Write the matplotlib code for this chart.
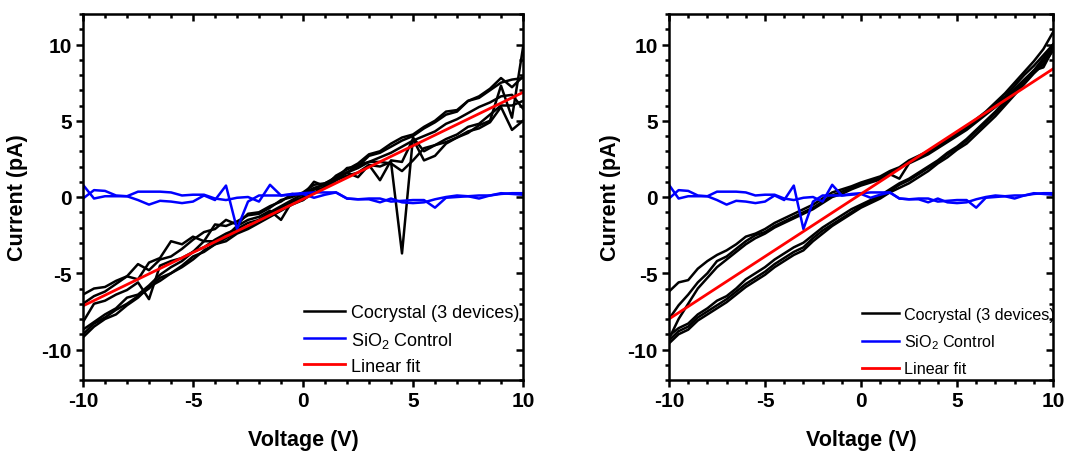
import matplotlib

matplotlib.use("Agg")
import matplotlib.pyplot as plt
from matplotlib.ticker import MultipleLocator

plt.rcParams["font.family"] = ["Liberation Sans", "DejaVu Sans"]
plt.rcParams["mathtext.default"] = "regular"
plt.rcParams["axes.unicode_minus"] = False

# Voltage sweep points (V)
VOLTAGE = [-10.0, -9.5, -9.0, -8.5, -8.0, -7.5, -7.0, -6.5, -6.0, -5.5, -5.0,
           -4.5, -4.0, -3.5, -3.0, -2.5, -2.0, -1.5, -1.0, -0.5, 0.0,
           0.5, 1.0, 1.5, 2.0, 2.5, 3.0, 3.5, 4.0, 4.5, 5.0,
           5.5, 6.0, 6.5, 7.0, 7.5, 8.0, 8.5, 9.0, 9.5, 10.0]

# SiO2 control, two sweeps (pA) - same in both panels
SIO2_A = [0.8, -0.1, 0.05, 0.05, 0.05, -0.2, -0.5, -0.25, -0.3, -0.4, -0.3,
          0.1, -0.2, 0.75, -2.1, -0.3, 0.1, 0.1, 0.1, 0.2, 0.25,
          0.3, 0.3, 0.3, -0.1, -0.15, -0.1, -0.1, -0.3, -0.25, -0.2,
          -0.2, -0.7, -0.05, 0.0, 0.05, -0.1, 0.1, 0.25, 0.2, 0.15]
SIO2_B = [-0.1, 0.45, 0.4, 0.1, 0.05, 0.35, 0.35, 0.35, 0.3, 0.1, 0.15,
          0.15, -0.1, -0.2, -0.05, 0.0, -0.3, 0.8, 0.1, 0.15, 0.2,
          -0.05, 0.15, 0.3, -0.1, -0.15, -0.15, -0.35, -0.1, -0.35, -0.4,
          -0.35, -0.15, 0.0, 0.1, 0.05, 0.1, 0.1, 0.2, 0.25, 0.25]

# Left panel: cocrystal sweeps (pA)
LEFT_COCRYSTAL = [
    [-6.4, -6.0, -5.9, -5.5, -5.2, -4.4, -4.8, -4.1, -3.9, -3.4, -2.8,
     -2.3, -2.1, -1.5, -1.8, -1.1, -1.0, -0.6, -0.3, 0.2, 0.1,
     1.0, 0.7, 1.4, 1.8, 2.2, 2.8, 3.0, 3.5, 3.9, 4.1,
     4.6, 5.0, 5.6, 5.7, 6.3, 6.6, 7.1, 7.8, 7.2, 7.9],
    [-7.0, -6.5, -6.2, -5.7, -5.2, -5.4, -4.3, -4.0, -2.9, -3.1, -2.6,
     -2.9, -1.8, -1.9, -1.6, -1.2, -1.1, -0.7, -0.2, 0.0, 0.3,
     0.8, 0.9, 1.2, 1.9, 2.0, 2.7, 2.9, 3.3, 3.7, 4.0,
     4.5, 4.9, 5.4, 5.6, 6.3, 6.5, 7.0, 7.5, 7.7, 7.8],
    [-8.2, -7.0, -6.8, -6.4, -6.1, -5.6, -6.7, -4.5, -4.2, -4.0, -3.6,
     -2.9, -2.9, -2.6, -1.9, -1.5, -1.3, -0.9, -1.5, -0.3, -0.2,
     0.5, 0.6, 1.1, 1.6, 1.3, 2.1, 1.1, 2.4, 2.3, 3.8,
     2.4, 2.7, 3.5, 3.9, 4.2, 4.7, 5.0, 7.3, 5.2, 9.8],
    [-9.0, -8.3, -7.9, -7.4, -7.0, -6.5, -6.0, -5.3, -5.0, -4.5, -3.9,
     -3.6, -3.1, -2.7, -2.3, -2.0, -1.5, -1.1, -0.7, -0.3, 0.0,
     0.5, 0.9, 1.3, 1.6, 1.9, 2.3, 2.3, 2.2, 1.7, 2.4,
     3.2, 3.4, 3.8, 4.1, 4.6, 4.8, 5.4, 6.0, 6.0, 6.3],
    [-9.2, -8.5, -8.0, -7.7, -7.1, -6.6, -5.9, -5.5, -5.0, -4.6, -4.1,
     -3.5, -3.1, -2.9, -2.4, -2.1, -1.7, -1.3, -0.9, -0.5, -0.2,
     0.3, 0.6, 1.1, 1.4, 1.6, 2.1, 2.0, 2.3, -3.7, 3.9,
     3.0, 3.4, 3.6, 3.9, 4.3, 4.5, 4.9, 5.9, 4.4, 5.0],
    [-8.7, -8.2, -7.7, -7.3, -6.6, -6.4, -5.8, -5.1, -4.6, -4.2, -3.6,
     -3.3, -2.8, -2.4, -2.1, -1.7, -1.5, -1.0, -0.6, -0.2, 0.2,
     0.6, 0.8, 1.3, 1.6, 2.1, 2.3, 2.6, 2.9, 3.3, 3.7,
     4.0, 4.3, 4.8, 5.1, 5.5, 5.9, 6.2, 6.6, 6.7, 5.8],
]

# Right panel: cocrystal sweeps (pA), three upper and three lower branches
RIGHT_COCRYSTAL = [
    [-6.2, -5.6, -5.45, -4.7, -4.2, -3.8, -3.5, -3.1, -2.6, -2.4, -2.1,
     -1.7, -1.4, -1.1, -0.8, -0.5, -0.1, 0.3, 0.5, 0.7, 0.95,
     1.15, 1.35, 1.7, 1.95, 2.4, 2.7, 3.0, 3.4, 3.8, 4.2,
     4.6, 5.1, 5.6, 6.2, 6.8, 7.5, 8.2, 8.9, 9.7, 10.8],
    [-8.0, -7.1, -6.4, -5.6, -5.0, -4.2, -3.9, -3.4, -2.9, -2.5, -2.3,
     -1.9, -1.6, -1.3, -1.0, -0.7, -0.3, 0.1, 0.35, 0.6, 0.85,
     1.05, 1.25, 1.6, 1.9, 2.3, 2.6, 2.9, 3.3, 3.7, 4.1,
     4.5, 5.0, 5.5, 6.1, 6.6, 7.3, 8.0, 8.6, 9.3, 10.0],
    [-9.3, -8.0, -7.0, -6.0, -5.3, -4.6, -4.1, -3.6, -3.1, -2.7, -2.4,
     -2.0, -1.7, -1.4, -1.1, -0.8, -0.4, 0.0, 0.2, 0.5, 0.75,
     0.95, 1.15, 1.5, 1.2, 2.2, 2.5, 2.8, 3.2, 3.6, 4.0,
     4.4, 4.9, 5.4, 5.9, 6.5, 7.1, 7.7, 8.3, 8.5, 9.7],
    [-9.1, -8.6, -8.3, -7.7, -7.3, -6.8, -6.5, -6.0, -5.4, -5.0, -4.6,
     -4.1, -3.7, -3.3, -3.0, -2.5, -2.0, -1.6, -1.2, -0.8, -0.5,
     -0.2, 0.1, 0.5, 0.9, 1.2, 1.6, 2.0, 2.4, 2.9, 3.3,
     3.8, 4.4, 5.0, 5.6, 6.3, 7.0, 7.6, 8.3, 9.1, 10.0],
    [-9.4, -8.8, -8.5, -7.9, -7.5, -7.1, -6.7, -6.2, -5.7, -5.3, -4.9,
     -4.4, -4.0, -3.6, -3.3, -2.7, -2.2, -1.8, -1.4, -1.0, -0.6,
     -0.3, 0.0, 0.4, 0.8, 1.1, 1.5, 1.9, 2.3, 2.8, 3.2,
     3.7, 4.3, 4.9, 5.5, 6.1, 6.8, 7.5, 8.2, 8.9, 9.8],
    [-9.6, -9.0, -8.7, -8.1, -7.7, -7.3, -6.9, -6.4, -5.9, -5.5, -5.1,
     -4.6, -4.2, -3.8, -3.5, -2.9, -2.4, -1.9, -1.5, -1.1, -0.7,
     -0.4, -0.1, 0.3, 0.6, 0.9, 1.3, 1.7, 2.2, 2.6, 3.1,
     3.5, 4.1, 4.7, 5.3, 6.0, 6.7, 7.4, 8.1, 8.7, 9.6],
]

# Linear fits: end points at -10 V and +10 V (pA)
FIT_V = [-10.0, 10.0]
LEFT_FIT = [-7.14, 6.86]
RIGHT_FIT = [-8.0, 8.4]


def style_axes(ax, ylabel_x):
    ax.set_xlim(-10, 10)
    ax.set_ylim(-12, 12)
    ax.xaxis.set_major_locator(MultipleLocator(5))
    ax.xaxis.set_minor_locator(MultipleLocator(1))
    ax.yaxis.set_major_locator(MultipleLocator(5))
    ax.yaxis.set_minor_locator(MultipleLocator(1))
    for spine in ax.spines.values():
        spine.set_linewidth(1.8)
    ax.tick_params(which="both", direction="out", width=1.8, labelsize=15, pad=3)
    ax.tick_params(which="major", length=5)
    ax.tick_params(which="minor", length=3)
    for label in ax.get_xticklabels() + ax.get_yticklabels():
        label.set_fontweight("bold")
    # mirrored axes with inward ticks
    top = ax.secondary_xaxis("top")
    right = ax.secondary_yaxis("right")
    for sec in (top, right):
        sec.tick_params(which="both", direction="in", width=1.8,
                        labeltop=False, labelright=False)
        sec.tick_params(which="major", length=5)
        sec.tick_params(which="minor", length=3)
    top.xaxis.set_major_locator(MultipleLocator(5))
    top.xaxis.set_minor_locator(MultipleLocator(1))
    right.yaxis.set_major_locator(MultipleLocator(5))
    right.yaxis.set_minor_locator(MultipleLocator(1))
    top.set_xticklabels([])
    right.set_yticklabels([])
    ax.set_xlabel("Voltage (V)", fontsize=15.5, fontweight="bold")
    ax.set_ylabel("Current (pA)", fontsize=15.5, fontweight="bold")
    ax.xaxis.set_label_coords(0.5, -0.135)
    ax.yaxis.set_label_coords(ylabel_x, 0.5)


def draw_panel(ax, sweeps, fit, ylabel_x, legend_size, legend_spacing):
    for k, sweep in enumerate(sweeps):
        ax.plot(VOLTAGE, sweep, color="black", lw=1.8,
                label="Cocrystal (3 devices)" if k == 0 else None)
    ax.plot(VOLTAGE, SIO2_A, color="#0000ff", lw=1.8, label="SiO$_2$ Control")
    ax.plot(VOLTAGE, SIO2_B, color="#0000ff", lw=1.8)
    ax.plot(FIT_V, fit, color="#ff0000", lw=2.0, label="Linear fit")
    ax.legend(loc="lower left", bbox_to_anchor=(0.466, -0.03), frameon=False,
              fontsize=legend_size, handlelength=2.25, handletextpad=0.35,
              labelspacing=legend_spacing)
    style_axes(ax, ylabel_x)


fig = plt.figure(figsize=(10.65, 4.56), dpi=100)
ax_left = fig.add_axes([83 / 1065, 1 - 381 / 456, 440 / 1065, 366 / 456])
ax_right = fig.add_axes([669 / 1065, 1 - 381 / 456, 384 / 1065, 366 / 456])

draw_panel(ax_left, LEFT_COCRYSTAL, LEFT_FIT, -0.125, 13, 0.45)
draw_panel(ax_right, RIGHT_COCRYSTAL, RIGHT_FIT, -0.125, 11.6, 0.65)

fig.savefig("out.png", dpi=100)
